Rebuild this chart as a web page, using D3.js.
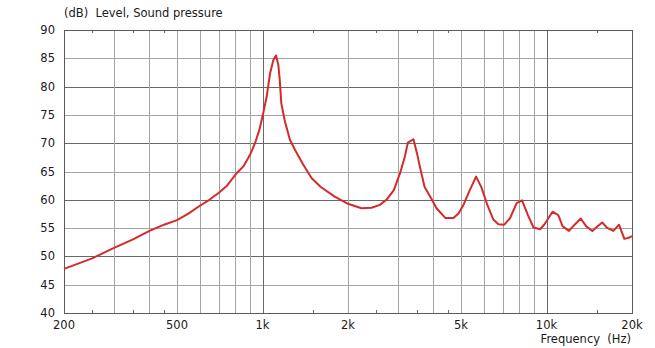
<!DOCTYPE html>
<html>
<head>
<meta charset="utf-8">
<script src="https://cdn.jsdelivr.net/npm/d3@7.9.0/dist/d3.min.js"></script>
<style>
  html, body { margin: 0; padding: 0; background: #fff; }
  svg { display: block; font-family: "DejaVu Sans", Verdana, sans-serif; }
</style>
</head>
<body>
<div id="chart"></div>
<script>
// frequency response (Hz, dB)
const freqs = [200, 250, 300, 350, 400, 450, 500, 550, 600, 650, 700, 750, 811, 856, 903, 941, 974,
  1000, 1034, 1063, 1092, 1116, 1137, 1150, 1165, 1200, 1249, 1302, 1392, 1490, 1600, 1790,
  2000, 2230, 2420, 2590, 2730, 2900, 3050, 3170, 3250, 3400, 3500, 3580, 3720, 3950, 4100,
  4400, 4700, 4900, 5100, 5370, 5650, 5900, 6200, 6500, 6770, 7100, 7430, 7850, 8200, 8600,
  9000, 9500, 9880, 10500, 11000, 11400, 12000, 12560, 13200, 13800, 14500, 15100, 15700,
  16300, 17200, 18000, 18800, 19500, 20000];
const levels = [47.8, 49.6, 51.5, 53.0, 54.5, 55.6, 56.4, 57.6, 58.9, 60.0, 61.2, 62.5, 64.7, 65.9, 67.9, 70, 72.3,
  74.7, 78.2, 82.3, 84.7, 85.5, 83.8, 81.2, 77, 73.8, 70.6, 68.8, 66.2, 63.8, 62.3, 60.6,
  59.3, 58.5, 58.6, 59.1, 60, 61.7, 64.7, 67.6, 70.1, 70.7, 68.2, 65.9, 62.3, 60, 58.5,
  56.8, 56.8, 57.6, 59.1, 61.7, 64.1, 62.2, 59, 56.5, 55.7, 55.6, 56.7, 59.4, 59.9, 57.3,
  55.1, 54.8, 55.8, 57.9, 57.3, 55.3, 54.5, 55.6, 56.7, 55.3, 54.5, 55.3, 56,
  55.1, 54.5, 55.6, 53.1, 53.3, 53.6];

const xTickVals = [200, 500, 1000, 2000, 5000, 10000, 20000];
const xTickLabels = ['200', '500', '1k', '2k', '5k', '10k', '20k'];
const xGridLight = [300, 400, 500, 600, 700, 800, 900, 2000, 3000, 4000, 5000, 6000, 7000, 8000, 9000];
const xGridDark = [1000, 10000];
const xMinorTicks = [250, 350, 450, 1500, 2500, 3500, 4500, 15000];
const yTickVals = [40, 45, 50, 55, 60, 65, 70, 75, 80, 85, 90];

const W = 655, H = 348;
const m = { left: 64, right: 632, top: 30, bottom: 313 };

const x = d3.scaleLog().domain([200, 20000]).range([m.left, m.right]);
const y = d3.scaleLinear().domain([40, 90]).range([m.bottom, m.top]);

const svg = d3.select('#chart').append('svg')
  .attr('width', W).attr('height', H);

const grid = svg.append('g').attr('shape-rendering', 'crispEdges');

// horizontal grid
grid.selectAll('line.hg')
  .data(yTickVals.filter(d => d > 40 && d < 90))
  .join('line')
  .attr('x1', m.left).attr('x2', m.right)
  .attr('y1', d => Math.round(y(d)) + 0.5).attr('y2', d => Math.round(y(d)) + 0.5)
  .attr('stroke', d => d % 10 === 0 ? '#686868' : '#a4a4a4');

// vertical grid
grid.append('g').selectAll('line')
  .data(xGridLight)
  .join('line')
  .attr('x1', d => Math.round(x(d)) + 0.5).attr('x2', d => Math.round(x(d)) + 0.5)
  .attr('y1', m.top).attr('y2', m.bottom)
  .attr('stroke', '#a4a4a4');

grid.append('g').selectAll('line')
  .data(xGridDark)
  .join('line')
  .attr('x1', d => Math.round(x(d)) + 0.5).attr('x2', d => Math.round(x(d)) + 0.5)
  .attr('y1', m.top).attr('y2', m.bottom)
  .attr('stroke', '#686868');

// minor ticks top and bottom
xMinorTicks.forEach(f => {
  const px = Math.round(x(f)) + 0.5;
  grid.append('line').attr('x1', px).attr('x2', px).attr('y1', m.top).attr('y2', m.top + 3).attr('stroke', '#686868');
  grid.append('line').attr('x1', px).attr('x2', px).attr('y1', m.bottom - 3).attr('y2', m.bottom).attr('stroke', '#686868');
});

// frame
grid.append('rect')
  .attr('x', m.left + 0.5).attr('y', m.top + 0.5)
  .attr('width', m.right - m.left).attr('height', m.bottom - m.top)
  .attr('fill', 'none').attr('stroke', '#5a5a5a');

// curve
const line = d3.line()
  .x((d, i) => x(freqs[i]))
  .y(d => y(d));

svg.append('path')
  .datum(levels)
  .attr('d', line)
  .attr('fill', 'none')
  .attr('stroke', '#d42a2a')
  .attr('stroke-width', 2)
  .attr('stroke-linejoin', 'round');

// y labels
svg.append('g').selectAll('text')
  .data(yTickVals)
  .join('text')
  .attr('x', 55).attr('y', d => y(d) + 4)
  .attr('text-anchor', 'end')
  .attr('font-size', 11.5).attr('fill', '#1a1a1a')
  .text(d => d);

// x labels
svg.append('g').selectAll('text')
  .data(xTickVals)
  .join('text')
  .attr('x', d => x(d)).attr('y', 329)
  .attr('text-anchor', 'middle')
  .attr('font-size', 11.5).attr('fill', '#1a1a1a')
  .text((d, i) => xTickLabels[i]);

svg.append('text')
  .attr('x', 631).attr('y', 343)
  .attr('text-anchor', 'end')
  .attr('font-size', 11.5).attr('fill', '#1a1a1a')
  .attr('xml:space', 'preserve')
  .text('Frequency  (Hz)');

svg.append('text')
  .attr('x', 64).attr('y', 17)
  .attr('font-size', 11.5).attr('fill', '#1a1a1a')
  .attr('xml:space', 'preserve')
  .text('(dB)  Level, Sound pressure');
</script>
</body>
</html>
